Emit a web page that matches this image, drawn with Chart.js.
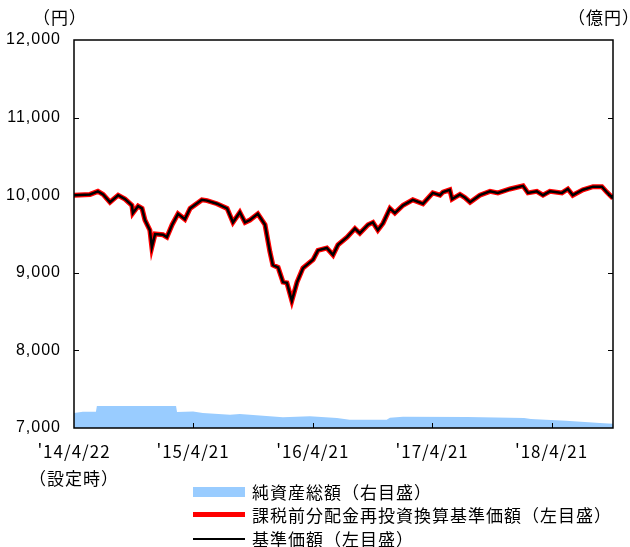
<!DOCTYPE html>
<html lang="ja">
<head>
<meta charset="UTF-8">
<title>基準価額・純資産総額の推移</title>
<script src="https://cdn.jsdelivr.net/npm/chart.js@4.4.0"></script>
<style>
  html, body { margin: 0; padding: 0; background: #fff; overflow: hidden; }
  #wrap { position: relative; width: 630px; height: 547px; overflow: hidden; }
  #chart { position: absolute; left: 0; top: 0; }
  .txt { position: absolute; font-family: "Noto Sans CJK JP"; font-size: 17px; letter-spacing: 1px; line-height: 20px; color: #000; white-space: nowrap; }
  .sw { position: absolute; left: 193px; width: 52px; }
</style>
</head>
<body>
<div id="wrap">
  <canvas id="chart" width="660" height="547"></canvas>
  <div class="txt" style="left:33px; top:7px;">（円）</div>
  <div class="txt" style="left:568px; top:7px;">（億円）</div>

  <div class="sw" style="top:487px; height:10px; background:#99ccff;"></div>
  <div class="txt" style="left:252px; top:482px;">純資産総額（右目盛）</div>
  <div class="sw" style="top:512px; height:5px; background:#ff0000;"></div>
  <div class="txt" style="left:252px; top:505px;">課税前分配金再投資換算基準価額（左目盛）</div>
  <div class="sw" style="top:538px; height:2px; background:#000;"></div>
  <div class="txt" style="left:252px; top:529px;">基準価額（左目盛）</div>
</div>
<script>
// x values are days since inception (2014/4/22)
const navDays = [0, 49, 73, 89, 110, 135, 156, 177, 180, 196, 208, 217, 232, 238, 248, 272, 284, 300, 318, 339,
  355, 391, 407, 437, 468, 486, 507, 523, 538, 562, 584, 599, 608, 624, 639, 651, 666, 682, 700, 731,
  746, 773, 792, 807, 835, 859, 874, 899, 914, 929, 945, 966, 981, 1006, 1036, 1067, 1097, 1119, 1128, 1149,
  1156, 1180, 1195, 1211, 1241, 1272, 1296, 1333, 1373, 1388, 1415, 1434, 1455, 1492, 1510, 1525, 1556, 1587, 1614, 1629, 1648];
// 基準価額 (yen)
const navYen = [10000, 10010, 10050, 10010, 9910, 10000, 9950, 9870, 9770, 9860, 9830, 9680, 9550, 9330, 9500, 9490, 9460, 9620, 9760, 9690,
  9830, 9940, 9930, 9890, 9830, 9650, 9780, 9650, 9680, 9760, 9620, 9270, 9100, 9070, 8880, 8870, 8640, 8880, 9060, 9170,
  9290, 9320, 9230, 9360, 9460, 9570, 9510, 9620, 9650, 9550, 9640, 9830, 9770, 9870, 9940, 9890, 10030, 10000, 10040, 10070,
  9950, 10010, 9970, 9910, 10000, 10050, 10030, 10080, 10120, 10030, 10050, 10000, 10050, 10030, 10080, 10000, 10070, 10110, 10110, 10040, 9960];
// 課税前分配金再投資換算基準価額 (no distributions, so it matches the NAV)
const reinvestYen = navYen.slice();

// 純資産総額 (100 million yen)
const aumDays = [0, 27, 67, 70, 312, 315, 364, 394, 477, 507, 639, 721, 804, 843, 956, 966, 1006, 1202, 1376, 1397, 1504, 1608, 1648];
const aumOku = [19.3, 21, 21, 28.4, 28.4, 20.6, 21.4, 19.3, 17.1, 18, 13.7, 15, 12.9, 10.7, 10.7, 13.3, 14.6, 14.2, 12.9, 11.6, 9.4, 6.4, 5.5];

const xTickDays = [0, 364, 730, 1095, 1460];
const xTickLabels = [["'14/4/22", "（設定時）"], "'15/4/21", "'16/4/21", "'17/4/21", "'18/4/21"];

const toPts = (xs, ys) => xs.map((x, i) => ({ x: x, y: ys[i] }));

// wider glyph spacing for the axis labels, like the original gothic font
const spacing = {
  id: 'spacing',
  beforeDraw(chart) { chart.ctx.letterSpacing = '1px'; },
  afterDraw(chart) { chart.ctx.letterSpacing = '0px'; }
};

// inward tick marks and plot frame
const frame = {
  id: 'frame',
  afterDatasetsDraw(chart) {
    const { ctx, chartArea: a, scales } = chart;
    ctx.save();
    ctx.strokeStyle = '#000';
    ctx.lineWidth = 1;
    ctx.beginPath();
    scales.y.ticks.forEach(t => {
      const py = Math.round(scales.y.getPixelForValue(t.value)) + 0.5;
      if (py > a.top + 1 && py < a.bottom - 1) { ctx.moveTo(a.left, py); ctx.lineTo(a.left + 5, py); }
    });
    scales.y2.ticks.forEach(t => {
      const py = Math.round(scales.y2.getPixelForValue(t.value)) + 0.5;
      if (py > a.top + 1 && py < a.bottom - 1) { ctx.moveTo(a.right, py); ctx.lineTo(a.right - 5, py); }
    });
    scales.x.ticks.forEach(t => {
      const px = Math.round(scales.x.getPixelForValue(t.value)) + 0.5;
      if (px > a.left + 1 && px < a.right - 1) { ctx.moveTo(px, a.bottom); ctx.lineTo(px, a.bottom - 5); }
    });
    ctx.stroke();
    ctx.lineWidth = 1.5;
    ctx.strokeRect(a.left, a.top, a.right - a.left, a.bottom - a.top);
    ctx.restore();
  }
};

const numFont = { family: '"Liberation Sans", Arial', size: 16 };

new Chart(document.getElementById('chart'), {
  type: 'line',
  data: {
    datasets: [
      {
        label: '基準価額（左目盛）',
        data: toPts(navDays, navYen),
        yAxisID: 'y',
        borderColor: '#000',
        borderWidth: 2.5,
        pointRadius: 0,
        tension: 0,
        order: 1
      },
      {
        label: '課税前分配金再投資換算基準価額（左目盛）',
        data: toPts(navDays, reinvestYen),
        yAxisID: 'y',
        borderColor: '#ff0000',
        borderWidth: 5,
        pointRadius: 0,
        tension: 0,
        order: 2
      },
      {
        label: '純資産総額（右目盛）',
        data: toPts(aumDays, aumOku),
        yAxisID: 'y2',
        borderWidth: 0,
        borderColor: 'rgba(0,0,0,0)',
        backgroundColor: '#99ccff',
        fill: 'origin',
        pointRadius: 0,
        tension: 0,
        order: 3
      }
    ]
  },
  plugins: [spacing, frame],
  options: {
    responsive: false,
    animation: false,
    events: [],
    layout: { padding: { top: 40, left: 0, right: 7, bottom: 59 } },
    plugins: { legend: { display: false }, tooltip: { enabled: false } },
    scales: {
      x: {
        type: 'linear',
        min: 0,
        max: 1648,
        afterBuildTicks: s => { s.ticks = xTickDays.map(v => ({ value: v })); },
        afterFit: s => { s.height = 60; },
        grid: { display: false, drawTicks: false },
        border: { display: false },
        ticks: {
          padding: 10,
          maxRotation: 0,
          autoSkip: false,
          color: '#000',
          font: { family: '"Noto Sans CJK JP"', size: 17, lineHeight: 1.6 },
          callback: (v) => xTickLabels[xTickDays.indexOf(v)]
        }
      },
      y: {
        position: 'left',
        min: 7000,
        max: 12000,
        afterFit: s => { s.width = 74; },
        grid: { display: false, drawTicks: false },
        border: { display: false },
        ticks: {
          stepSize: 1000,
          padding: 13,
          color: '#000',
          font: numFont,
          callback: v => v.toLocaleString('en-US')
        }
      },
      y2: {
        position: 'right',
        min: 0,
        max: 500,
        afterFit: s => { s.width = 40; },
        grid: { display: false, drawTicks: false },
        border: { display: false },
        ticks: {
          stepSize: 100,
          padding: 17,
          color: '#000',
          font: numFont
        }
      }
    }
  }
});
</script>
</body>
</html>
